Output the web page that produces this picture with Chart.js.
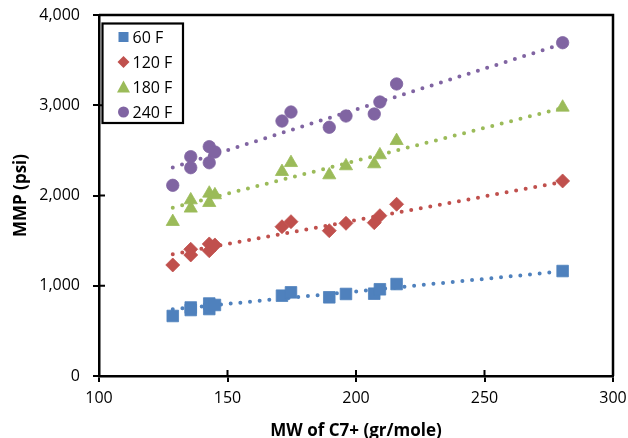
<!DOCTYPE html>
<html>
<head>
<meta charset="utf-8">
<script src="https://cdn.jsdelivr.net/npm/chart.js"></script>
<style>
  html, body { margin: 0; padding: 0; background: #fff; }
  canvas { display: block; }
</style>
</head>
<body>
<canvas id="graficoMMP" width="628" height="438"></canvas>
<script>
// --- Dados ---
const mwC7 = [128.7, 135.7, 135.7, 142.9, 142.9, 145.1, 171.2, 174.7, 189.6, 196.1, 207.1, 209.3, 215.8, 280.4];
const mmp60F = [665, 759, 731, 803, 742, 787, 890, 927, 872, 909, 912, 961, 1019, 1163];
const mmp120F = [1230, 1404, 1341, 1463, 1388, 1452, 1654, 1710, 1610, 1692, 1699, 1776, 1903, 2161];
const mmp180F = [1710, 1950, 1858, 2024, 1920, 2006, 2264, 2363, 2227, 2327, 2349, 2449, 2607, 2977];
const mmp240F = [2113, 2430, 2308, 2541, 2363, 2482, 2825, 2925, 2756, 2881, 2903, 3036, 3236, 3693];

// linhas de tendência (pontos inicial e final)
const trendX = [128.7, 280.4];
const trend60F = [740, 1160];
const trend120F = [1350, 2150];
const trend180F = [1865, 2970];
const trend240F = [2310, 3680];

const seriesLabels = ['60 F', '120 F', '180 F', '240 F'];
const xTicks = [100, 150, 200, 250, 300];
const yTicks = [0, 1000, 2000, 3000, 4000];

const cores = ['#4F81BD', '#C0504D', '#9BBB59', '#8064A2'];
const estilos = ['rect', 'rectRot', 'triangle', 'circle'];
const raios = [8.2, 7, 7.6, 6.2];
const fonte = "'Open Sans', 'Liberation Sans', sans-serif";

const pares = (xs, ys) => xs.map((x, i) => ({ x, y: ys[i] }));

const dadosSeries = [mmp60F, mmp120F, mmp180F, mmp240F];
const dadosTrend = [trend60F, trend120F, trend180F, trend240F];

const datasets = [];
dadosSeries.forEach((ys, i) => {
    datasets.push({
        type: 'scatter',
        label: seriesLabels[i],
        data: pares(mwC7, ys),
        pointStyle: estilos[i],
        pointRadius: raios[i],
        pointHoverRadius: raios[i],
        backgroundColor: cores[i],
        borderColor: cores[i],
        pointBorderWidth: 0.8,
        order: 1
    });
});
dadosTrend.forEach((ys, i) => {
    datasets.push({
        type: 'line',
        label: 'trend ' + seriesLabels[i],
        data: pares(trendX, ys),
        borderColor: cores[i],
        borderWidth: 4,
        borderDash: [0, 9.7],
        borderCapStyle: 'round',
        pointRadius: 0,
        fill: false,
        order: 2
    });
});

// desenha um marcador simples (para a legenda)
function marcador(ctx, estilo, x, y, cor) {
    ctx.fillStyle = cor;
    ctx.beginPath();
    if (estilo === 'rect') {
        ctx.rect(x - 5, y - 5, 10, 10);
    } else if (estilo === 'rectRot') {
        ctx.moveTo(x - 6, y); ctx.lineTo(x, y - 6); ctx.lineTo(x + 6, y); ctx.lineTo(x, y + 6);
    } else if (estilo === 'triangle') {
        ctx.moveTo(x, y - 6.5); ctx.lineTo(x + 6.5, y + 5.5); ctx.lineTo(x - 6.5, y + 5.5);
    } else {
        ctx.arc(x, y, 5.5, 0, Math.PI * 2);
    }
    ctx.closePath();
    ctx.fill();
}

const molduraPlugin = {
    id: 'moldura',
    afterDraw(chart) {
        const { ctx, chartArea: a, scales } = chart;
        ctx.save();
        ctx.strokeStyle = '#000';
        ctx.lineWidth = 2.5;
        ctx.beginPath();
        ctx.moveTo(a.left, a.top);
        ctx.lineTo(a.right, a.top);
        ctx.lineTo(a.right, a.bottom);
        ctx.stroke();
        // marcas internas dos ticks
        ctx.lineWidth = 2;
        ctx.beginPath();
        xTicks.forEach(v => {
            const px = scales.x.getPixelForValue(v);
            ctx.moveTo(px, a.bottom);
            ctx.lineTo(px, a.bottom - 6);
        });
        yTicks.forEach(v => {
            const py = scales.y.getPixelForValue(v);
            ctx.moveTo(a.left, py);
            ctx.lineTo(a.left + 6, py);
        });
        ctx.stroke();

        // legenda
        const lx = 102.5, ly = 23.5, lw = 80.5, lh = 99.5;
        ctx.fillStyle = '#fff';
        ctx.fillRect(lx, ly, lw, lh);
        ctx.lineWidth = 2.2;
        ctx.strokeRect(lx, ly, lw, lh);
        ctx.font = '16px ' + fonte;
        ctx.textBaseline = 'middle';
        ctx.textAlign = 'left';
        seriesLabels.forEach((txt, i) => {
            const cy = 37 + i * 25;
            marcador(ctx, estilos[i], 123.5, cy, cores[i]);
            ctx.fillStyle = '#000';
            ctx.fillText(txt, 132.5, cy + 1);
        });
        ctx.restore();
    }
};

new Chart(document.getElementById('graficoMMP'), {
    type: 'scatter',
    data: { datasets },
    options: {
        responsive: false,
        animation: false,
        layout: { padding: { left: 0, right: 15, top: 15, bottom: 0 } },
        plugins: {
            legend: { display: false },
            tooltip: { enabled: false }
        },
        scales: {
            x: {
                type: 'linear',
                min: 100,
                max: 300,
                afterBuildTicks: s => { s.ticks = xTicks.map(v => ({ value: v })); },
                afterFit: s => { s.height = 62; s.paddingLeft = 0; s.paddingRight = 0; },
                ticks: { color: '#000', font: { family: fonte, size: 16 }, padding: 7 },
                grid: { drawOnChartArea: false, drawTicks: true, tickLength: 6, color: '#000', lineWidth: 2 },
                border: { color: '#000', width: 2.5 },
                title: {
                    display: true,
                    text: 'MW of C7+ (gr/mole)',
                    color: '#000',
                    font: { family: fonte, size: 17, weight: 'bold' },
                    padding: { top: 0, bottom: -3 }
                }
            },
            y: {
                min: 0,
                max: 4000,
                afterBuildTicks: s => { s.ticks = yTicks.map(v => ({ value: v })); },
                afterFit: s => { s.width = 99; s.paddingTop = 0; s.paddingBottom = 0; },
                ticks: {
                    color: '#000',
                    font: { family: fonte, size: 16 },
                    padding: 13,
                    callback: v => v.toLocaleString('en-US')
                },
                grid: { drawOnChartArea: false, drawTicks: true, tickLength: 6, color: '#000', lineWidth: 2 },
                border: { color: '#000', width: 2.5 },
                title: {
                    display: true,
                    text: 'MMP (psi)',
                    color: '#000',
                    font: { family: fonte, size: 17, weight: 'bold' },
                    padding: { top: 11, bottom: 0 }
                }
            }
        }
    },
    plugins: [molduraPlugin]
});
</script>
</body>
</html>
